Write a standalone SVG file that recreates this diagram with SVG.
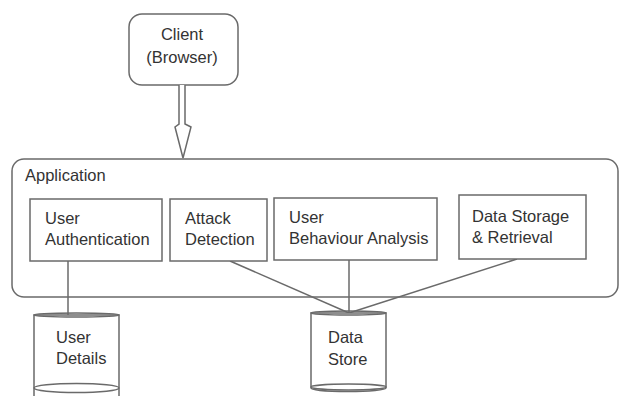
<svg xmlns="http://www.w3.org/2000/svg" width="621" height="396" viewBox="0 0 621 396">
<style>
.box{fill:#fff;stroke:#6a6a6a;stroke-width:1.5}
.ln{fill:none;stroke:#6a6a6a;stroke-width:1.5}
text{font-family:"Liberation Sans",Arial,sans-serif;font-size:16.5px;fill:#333}
</style>
<rect width="621" height="396" fill="#fff"/>
<g id="application">
<rect class="box" x="12" y="159" width="606" height="138" rx="12"/>
<text x="25" y="181">Application</text>
</g>
<g id="client">
<rect class="box" x="129" y="14" width="109" height="71" rx="13"/>
<text x="182" y="40" text-anchor="middle">Client</text>
<text x="182" y="63" text-anchor="middle">(Browser)</text>
</g>
<g id="connectors">
<path class="box" d="M179,85 V124 L175,127 L183,158 L191,127 L185,124 V85"/>
<line class="ln" x1="68" y1="261" x2="68" y2="315"/>
<line class="ln" x1="230" y1="261" x2="349" y2="313"/>
<line class="ln" x1="349" y1="260" x2="349" y2="313"/>
<line class="ln" x1="517" y1="259" x2="349" y2="313"/>
</g>
<g id="user-authentication">
<rect class="box" x="30" y="199" width="132" height="62"/>
<text x="45" y="224">User</text>
<text x="45" y="245">Authentication</text>
</g>
<g id="attack-detection">
<rect class="box" x="170" y="199" width="97" height="62"/>
<text x="185" y="224">Attack</text>
<text x="185" y="245">Detection</text>
</g>
<g id="user-behaviour-analysis">
<rect class="box" x="274" y="198" width="163" height="62"/>
<text x="289" y="223">User</text>
<text x="289" y="244">Behaviour Analysis</text>
</g>
<g id="data-storage-retrieval">
<rect class="box" x="459" y="195" width="127" height="64"/>
<text x="472" y="222">Data Storage</text>
<text x="472" y="243">&amp; Retrieval</text>
</g>
<g id="user-details">
<path class="box" d="M34,315 V398 H119 V315 Z"/>
<ellipse class="ln" cx="76.5" cy="315" rx="42.5" ry="2"/>
<ellipse class="ln" cx="76.5" cy="388" rx="42.5" ry="4.5"/>
<text x="56" y="343">User</text>
<text x="56" y="364">Details</text>
</g>
<g id="data-store">
<path class="box" d="M311,313 V388 A37.5,3.5 0 0 0 386,388 V313 Z"/>
<ellipse class="ln" cx="348.5" cy="313" rx="37.5" ry="2"/>
<ellipse class="ln" cx="348.5" cy="387" rx="37.5" ry="3"/>
<text x="328" y="343">Data</text>
<text x="328" y="365">Store</text>
</g>
</svg>
